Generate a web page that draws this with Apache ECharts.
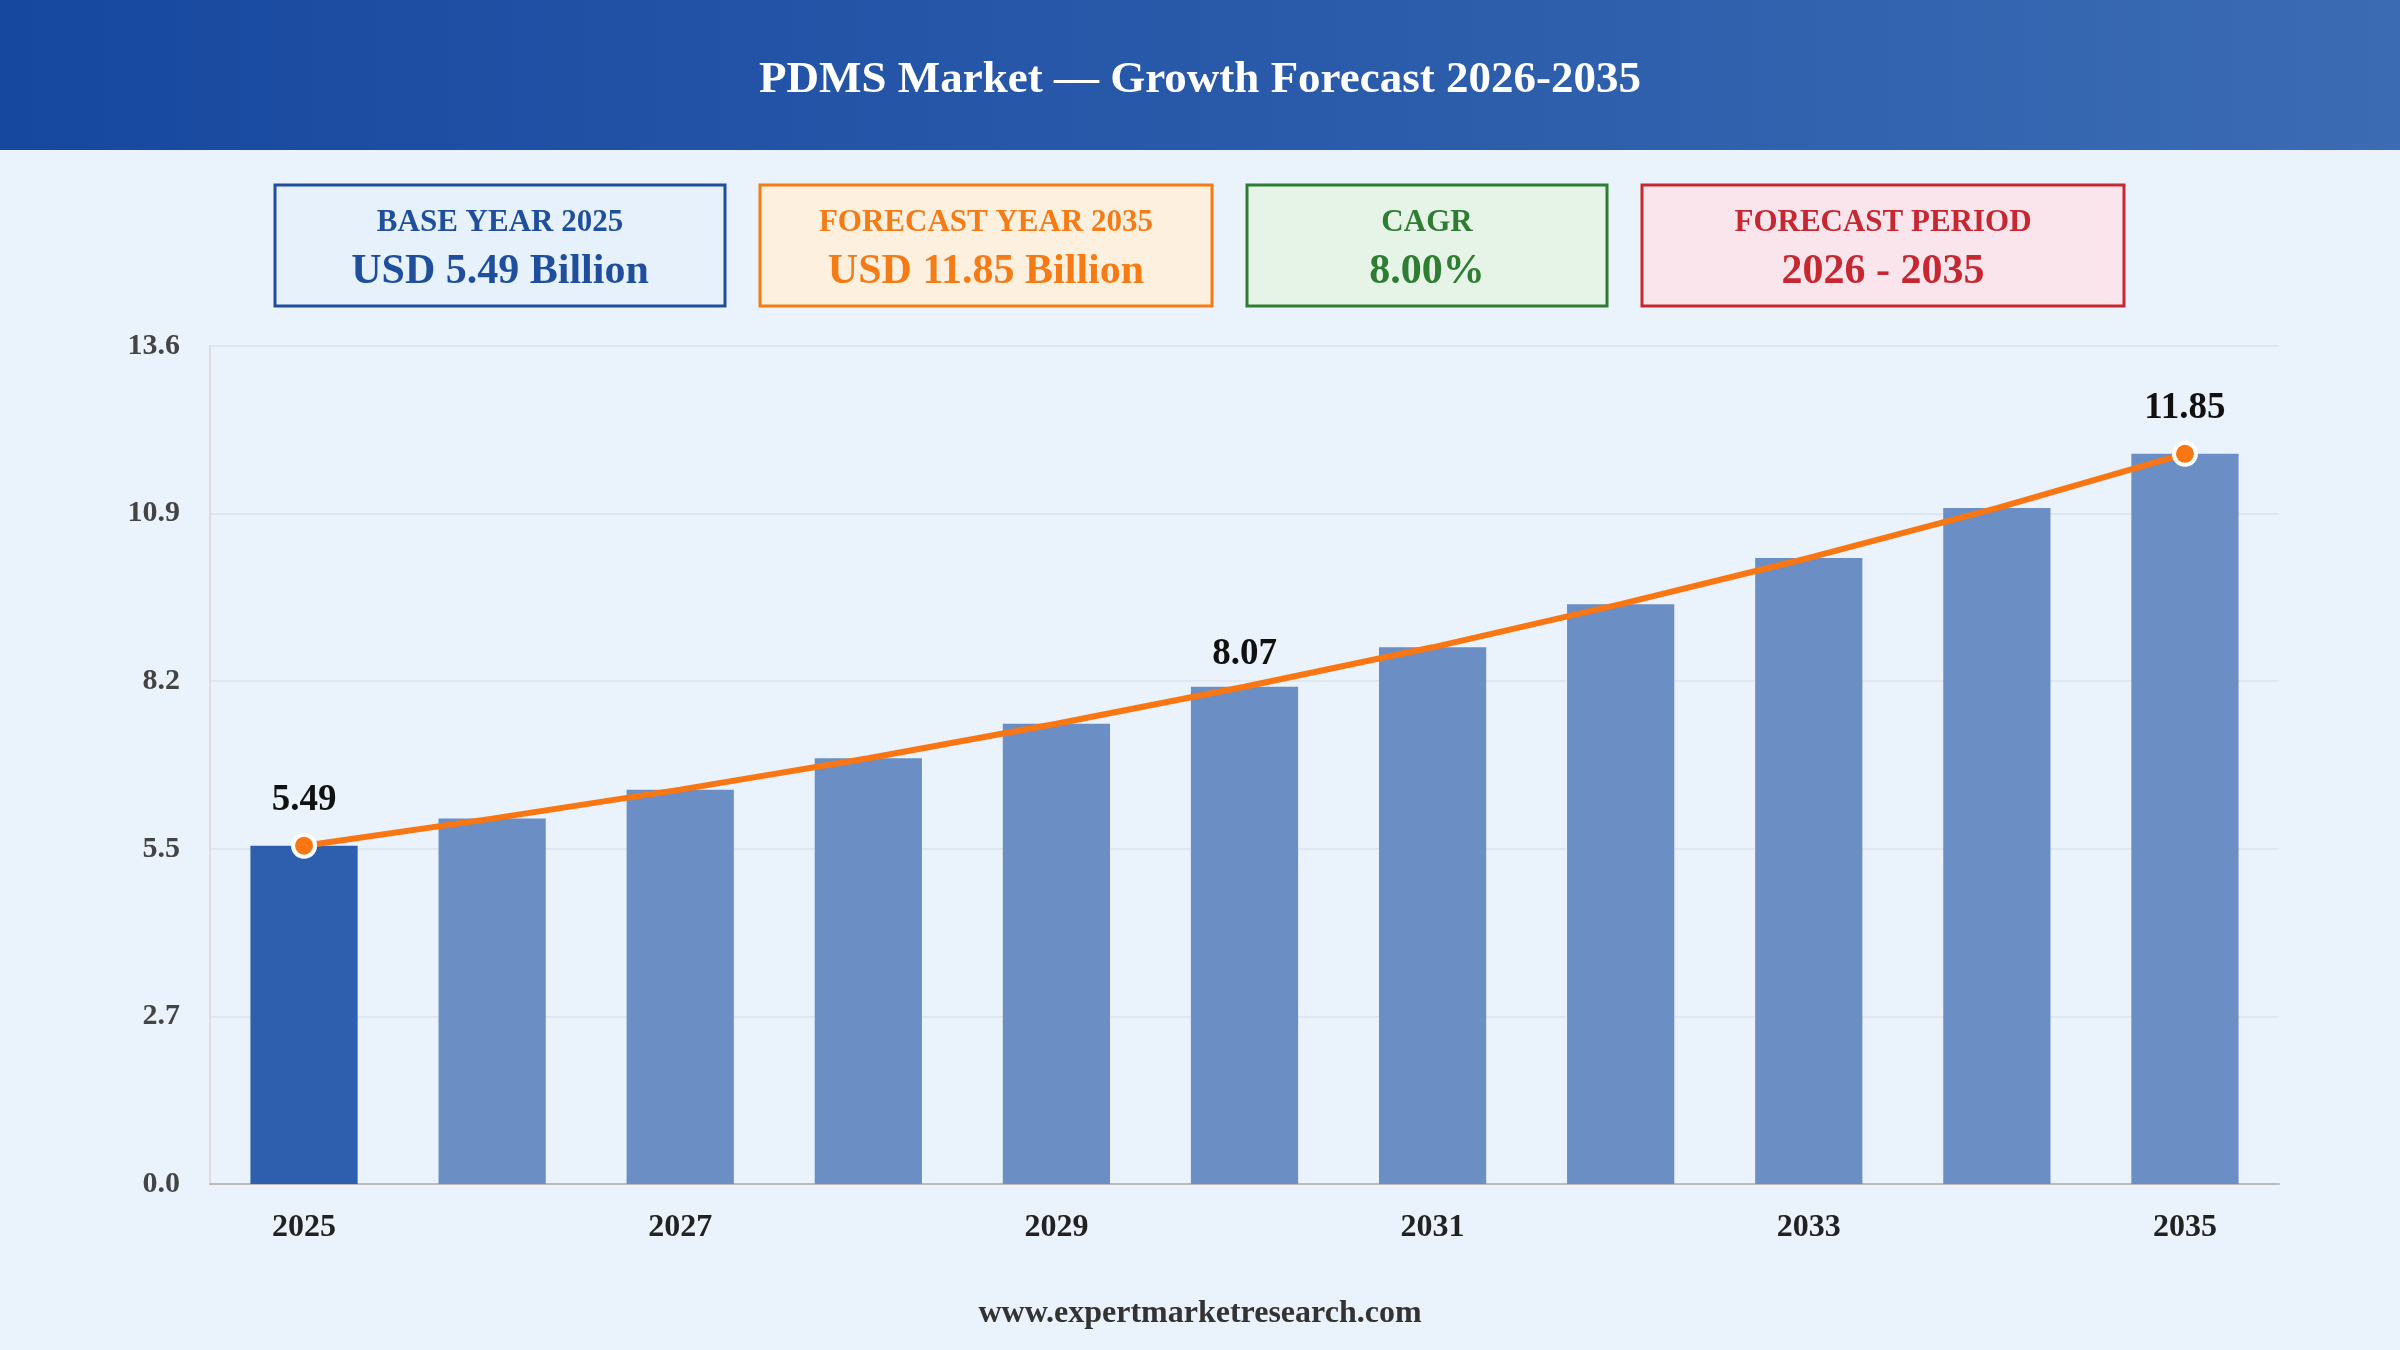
<!DOCTYPE html>
<html><head><meta charset="utf-8">
<script src="https://cdn.jsdelivr.net/npm/echarts@6/dist/echarts.min.js"></script>
<style>html,body{margin:0;padding:0;background:#eaf2fb}#c{width:2400px;height:1350px}</style>
</head><body><div id="c"></div>
<script>
const years = ['2025','2026','2027','2028','2029','2030','2031','2032','2033','2034','2035'];
const values = [5.49, 5.93, 6.40, 6.91, 7.47, 8.07, 8.71, 9.41, 10.16, 10.97, 11.85];
const yTickLabels = ['0.0','2.7','5.5','8.2','10.9','13.6'];
const labeledYears = ['2025','2030','2035'];
const markerYears = ['2025','2035'];
const cards = [
  {title:'BASE YEAR 2025', value:'USD 5.49 Billion', color:'#1f4f9c', bg:'#e6f1fc', border:'#1f4f9c'},
  {title:'FORECAST YEAR 2035', value:'USD 11.85 Billion', color:'#f47b16', bg:'#fdf0df', border:'#f47b16'},
  {title:'CAGR', value:'8.00%', color:'#2e7d32', bg:'#e6f4e8', border:'#2e7d32'},
  {title:'FORECAST PERIOD', value:'2026 - 2035', color:'#c62832', bg:'#fbe5ec', border:'#c62832'}
];
const cardX = [275, 760, 1247, 1642];
const cardW = [450, 452, 360, 482];
const font = '"Liberation Serif","Times New Roman",serif';

const graphics = [
  {type:'rect', shape:{x:0,y:0,width:2400,height:150}, z:0,
   style:{fill:new echarts.graphic.LinearGradient(0,0,1,0,[{offset:0,color:'#1748a0'},{offset:1,color:'#3a6bb3'}])}},
  {type:'text', x:1200, y:80, style:{text:'PDMS Market — Growth Forecast 2026-2035', fill:'#fff', font:'bold 45px '+font, textAlign:'center', textVerticalAlign:'middle'}},
  {type:'text', x:1200, y:1314, style:{text:'www.expertmarketresearch.com', fill:'#333', font:'bold 32px '+font, textAlign:'center', textVerticalAlign:'middle'}}
];
cards.forEach((c,i)=>{
  graphics.push({type:'rect', shape:{x:cardX[i],y:185,width:cardW[i],height:121}, style:{fill:c.bg, stroke:c.border, lineWidth:3}});
  graphics.push({type:'text', x:cardX[i]+cardW[i]/2, y:223, style:{text:c.title, fill:c.color, font:'bold 31px '+font, textAlign:'center', textVerticalAlign:'middle'}});
  graphics.push({type:'text', x:cardX[i]+cardW[i]/2, y:272, style:{text:c.value, fill:c.color, font:'bold 42px '+font, textAlign:'center', textVerticalAlign:'middle'}});
});

const chart = echarts.init(document.getElementById('c'));
chart.setOption({
  backgroundColor:'#eaf2fb',
  animation:false,
  graphic:graphics,
  grid:{left:210, right:121, top:346, bottom:166},
  xAxis:{type:'category', data:years, axisTick:{show:false},
    axisLine:{lineStyle:{color:'#bbb', width:2}},
    axisLabel:{interval:1, color:'#222', fontFamily:font, fontWeight:'bold', fontSize:32, margin:28}},
  yAxis:{type:'value', min:0, max:13.6, interval:2.72,
    axisLine:{show:true, lineStyle:{color:'#ddd', width:2}},
    splitLine:{lineStyle:{color:'#dde3ea', width:1.5}},
    axisLabel:{formatter:(v)=>yTickLabels[Math.round(v/2.72)], color:'#444', fontFamily:font, fontWeight:'bold', fontSize:30, margin:30}},
  series:[
    {type:'bar', barWidth:'57%', z:2,
     data:values.map((v,i)=>({value:v, itemStyle:{color:i===0?'#2e5fae':'#6b8ec4'}}))},
    {type:'line', z:3, symbol:'circle',
     lineStyle:{color:'#f97612', width:6},
     data:values.map((v,i)=>({value:v,
       symbolSize: markerYears.includes(years[i]) ? 22 : 0,
       itemStyle:{color:'#f97612', borderColor:'#fff', borderWidth:4},
       label:{show: labeledYears.includes(years[i]), position:'top', distance:14, formatter:v.toFixed(2),
         color:'#111', fontFamily:font, fontWeight:'bold', fontSize:37}}))}
  ]
});
</script></body></html>
